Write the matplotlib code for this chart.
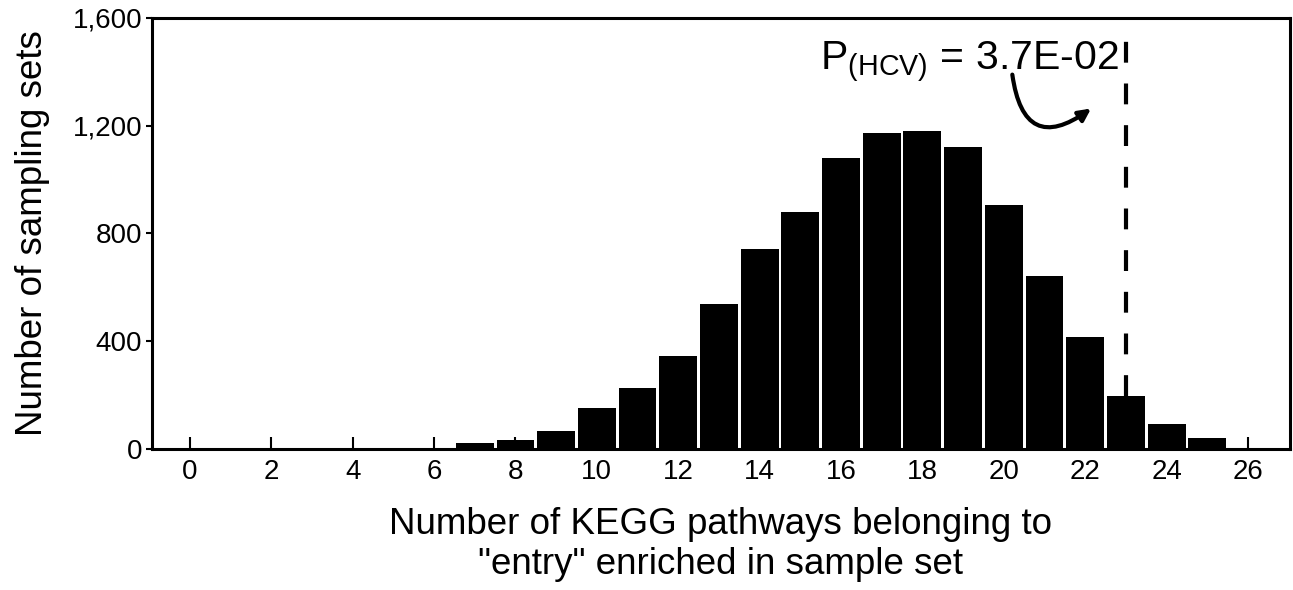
import matplotlib.pyplot as plt
from matplotlib.ticker import FuncFormatter

plt.rcParams['font.family'] = ['Liberation Sans', 'DejaVu Sans']
plt.rcParams['mathtext.fontset'] = 'custom'
plt.rcParams['mathtext.rm'] = 'Liberation Sans'
plt.rcParams['mathtext.it'] = 'Liberation Sans'

# -----------------------------
# Data
# -----------------------------
pathways = [7, 8, 9, 10, 11, 12, 13, 14, 15, 16, 17, 18, 19, 20, 21, 22, 23, 24, 25]
counts = [22, 33, 67, 152, 226, 344, 537, 744, 878, 1081, 1174, 1181, 1122, 904, 641, 415, 196, 93, 41]
x_ticks = [0, 2, 4, 6, 8, 10, 12, 14, 16, 18, 20, 22, 24, 26]
y_ticks = [0, 400, 800, 1200, 1600]
observed = 23
p_label = r'P$_{\mathrm{(HCV)}}$ = 3.7E-02'

# -----------------------------
# Plot
# -----------------------------
fig = plt.figure(figsize=(12.93, 5.90), dpi=100)
ax = fig.add_axes([0.1176, 0.2390, 0.8800, 0.7305])

ax.bar(pathways, counts, width=0.93, color='black', edgecolor='none', zorder=2)

# observed value for HCV
ax.vlines(observed, counts[pathways.index(observed)], 1520, colors='black',
          linestyles=(0, (5, 5)), linewidth=3, zorder=3)

ax.text(19.15, 1440, p_label, fontsize=29.5, ha='center', va='center')
ax.annotate('', xy=(22.2, 1270), xytext=(20.2, 1400),
            arrowprops=dict(arrowstyle='-|>', color='black', lw=3,
                            mutation_scale=18,
                            connectionstyle='arc3,rad=0.85'))

ax.set_xlim(-0.93, 27.03)
ax.set_ylim(0, 1600)
ax.set_xticks(x_ticks)
ax.set_yticks(y_ticks)
ax.yaxis.set_major_formatter(FuncFormatter(lambda v, p: f'{int(v):,}'))

ax.tick_params(axis='x', direction='in', length=9, width=1.5, labelsize=20, pad=7)
ax.tick_params(axis='y', direction='out', length=4, width=1.5, labelsize=20, pad=3)
for s in ax.spines.values():
    s.set_linewidth(2.2)

ax.set_xlabel('Number of KEGG pathways belonging to\n"entry" enriched in sample set',
              fontsize=26.5, labelpad=16, linespacing=1.2)
ax.set_ylabel('Number of sampling sets', fontsize=26.5, labelpad=16)

fig.savefig('out.png', dpi=100)
